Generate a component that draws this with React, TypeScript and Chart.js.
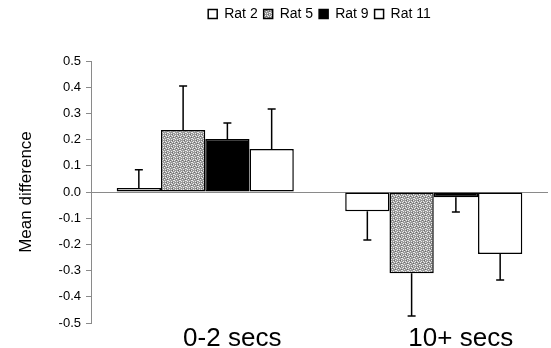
import React, { useEffect, useRef } from "react";
import { Chart, registerables } from "chart.js";

Chart.register(...registerables);

const categories = ["0-2 secs", "10+ secs"];
const seriesNames = ["Rat 2", "Rat 5", "Rat 9", "Rat 11"];
const rat2 = [0.015, -0.073];
const rat5 = [0.237, -0.31];
const rat9 = [0.202, -0.02];
const rat11 = [0.164, -0.237];
const err2 = [0.07, 0.11];
const err5 = [0.168, 0.163];
const err9 = [0.061, 0.056];
const err11 = [0.153, 0.099];
const yTicks = [0.5, 0.4, 0.3, 0.2, 0.1, 0.0, -0.1, -0.2, -0.3, -0.4, -0.5];

const FONT = 'Arial, "Liberation Sans", sans-serif';

function makeSpeckle(): CanvasPattern | string {
  const c = document.createElement("canvas");
  c.width = 6;
  c.height = 6;
  const ctx = c.getContext("2d");
  if (!ctx) return "#999";
  ctx.fillStyle = "#9a9a9a";
  ctx.fillRect(0, 0, 6, 6);
  const light = [
    [0, 0], [3, 1], [5, 2], [1, 3], [4, 4], [2, 5], [0, 4], [3, 3], [5, 0], [1, 1],
  ];
  const dark = [[4, 2], [2, 4], [5, 5]];
  ctx.fillStyle = "#ececec";
  light.forEach(([x, y]) => ctx.fillRect(x, y, 1, 1));
  ctx.fillStyle = "#6a6a6a";
  dark.forEach(([x, y]) => ctx.fillRect(x, y, 1, 1));
  return ctx.createPattern(c, "repeat") || "#999";
}

const errorBarPlugin = {
  id: "errorBars",
  afterDatasetsDraw(chart: any) {
    const ctx = chart.ctx;
    const yScale = chart.scales.y;
    ctx.save();
    ctx.strokeStyle = "#000";
    ctx.lineWidth = 1.5;
    chart.data.datasets.forEach((ds: any, i: number) => {
      const meta = chart.getDatasetMeta(i);
      meta.data.forEach((bar: any, j: number) => {
        const v = ds.data[j];
        const e = ds.errors[j];
        const end = yScale.getPixelForValue(v >= 0 ? v + e : v - e);
        ctx.beginPath();
        ctx.moveTo(bar.x, bar.y);
        ctx.lineTo(bar.x, end);
        ctx.moveTo(bar.x - 4, end);
        ctx.lineTo(bar.x + 4, end);
        ctx.stroke();
      });
    });
    ctx.restore();
  },
};

export default function App() {
  const ref = useRef<HTMLCanvasElement | null>(null);
  useEffect(() => {
    document.body.style.margin = "0";
    const canvas = ref.current;
    if (!canvas) return;
    const speckle = makeSpeckle();
    const fills = ["#ffffff", speckle, "#000000", "#ffffff"];
    const values = [rat2, rat5, rat9, rat11];
    const errs = [err2, err5, err9, err11];
    const chart = new Chart(canvas, {
      type: "bar",
      data: {
        labels: categories,
        datasets: seriesNames.map((name, i) => ({
          label: name,
          data: values[i],
          errors: errs[i],
          backgroundColor: fills[i],
          borderColor: "#000",
          borderWidth: 1.5,
          borderSkipped: false,
          categoryPercentage: 0.775,
          barPercentage: 1.0,
        })) as any,
      },
      options: {
        animation: false,
        responsive: false,
        devicePixelRatio: 1,
        layout: { padding: { top: 1, right: 3, left: 0, bottom: 0 } },
        plugins: {
          tooltip: { enabled: false },
          legend: {
            position: "top",
            fullSize: false,
            labels: {
              boxWidth: 9,
              boxHeight: 9,
              padding: 6,
              color: "#000",
              font: { family: FONT, size: 14 },
            },
          },
        },
        scales: {
          x: {
            type: "category",
            grid: { display: false, drawTicks: false },
            border: { display: false },
            ticks: {
              color: "#000",
              font: { family: FONT, size: 26, lineHeight: 1 },
              labelOffset: 27,
              padding: 3,
              maxRotation: 0,
            },
            afterFit(scale: any) {
              scale.height = 25;
            },
          },
          top: {
            type: "category",
            position: "top",
            display: true,
            grid: { display: false, drawTicks: false },
            border: { display: false },
            ticks: { display: false },
            afterFit(scale: any) {
              scale.height = 30;
            },
          },
          y: {
            min: -0.5,
            max: 0.5,
            afterBuildTicks(scale: any) {
              scale.ticks = yTicks.map((v) => ({ value: v }));
            },
            ticks: {
              color: "#000",
              font: { family: FONT, size: 13 },
              padding: 5,
              callback: (v: any) => Number(v).toFixed(1),
            },
            grid: {
              color: (c: any) =>
                c.tick && Math.abs(c.tick.value) < 1e-9 ? "#8a8a8a" : "rgba(0,0,0,0)",
              tickColor: "#8a8a8a",
              tickLength: 5,
              lineWidth: 1,
            },
            border: { display: true, color: "#8a8a8a", width: 1 },
            title: {
              display: true,
              text: "Mean difference",
              color: "#000",
              font: { family: FONT, size: 17 },
              padding: { top: 16, bottom: 0 },
            },
            afterFit(scale: any) {
              scale.width = 91;
            },
          },
        },
      } as any,
      plugins: [errorBarPlugin],
    });
    return () => chart.destroy();
  }, []);
  return (
    <div style={{ width: 551, height: 348 }}>
      <canvas ref={ref} width={551} height={348} style={{ display: "block" }} />
    </div>
  );
}
